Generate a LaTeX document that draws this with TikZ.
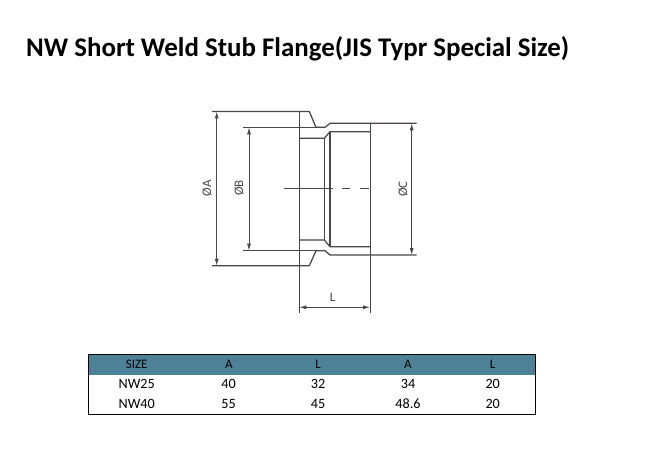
\documentclass[tikz,border=0pt]{standalone}
\usepackage{fontspec}
\setmainfont{Carlito}
\usetikzlibrary{arrows.meta}
\definecolor{hdr}{HTML}{4D8198}
\definecolor{ink}{HTML}{4A4646}
\tikzset{
  x=1pt,y=-1pt,
  part/.style={draw=ink,line width=1.25pt,line join=round},
  thin part/.style={draw=ink,line width=1pt},
  dim/.style={draw=ink,line width=.9pt,{Latex[length=7pt,width=4pt]}-{Latex[length=7pt,width=4pt]}},
  dimlabel/.style={font=\fontsize{13}{15}\selectfont,text=ink,inner sep=0pt},
  cell/.style={font=\fontsize{13}{15}\selectfont,text=black,inner sep=0pt},
  body cell/.style={font=\fontsize{14.2}{16}\selectfont,text=black,inner sep=0pt},
  title/.style={font=\bfseries\fontsize{26.9}{30}\selectfont,text=black,inner sep=0pt,anchor=west}
}
\begin{document}
\begin{tikzpicture}
\useasboundingbox (0,0) rectangle (645,449);
\fill[white] (0,0) rectangle (645,449);
\node[title] (ttl) at (26,49) {NW Short Weld Stub Flange(JIS Typr Special Size)};
% outline
\draw[part] (212,111.5) -- (309.3,111.5) -- (316,127.3) -- (325,127.3) -- (330,123.3) -- (416.7,123.3);
\draw[part] (243,127.3) -- (316,127.3);
\draw[part] (212,265.7) -- (309.3,265.7) -- (316,250.7) -- (325,250.7) -- (330,255) -- (416.7,255);
\draw[part] (243,250.7) -- (316,250.7);
\draw[part] (299.3,138.3) -- (324.3,138.3) -- (330,131.7) -- (370,131.7);
\draw[part] (299.3,240) -- (324.3,240) -- (330,246.7) -- (370,246.7);
\draw[part] (324.3,138.3) -- (324.3,240);
\draw[part] (330,131.7) -- (330,246.7);
\draw[thin part] (299.3,110.7) -- (299.3,313);
\draw[thin part] (370,123.3) -- (370,313);
% centre line
\draw[thin part] (284,189) -- (333,189);
\draw[thin part] (341.7,189) -- (350,189);
\draw[thin part] (360,189) -- (369,189);
% dimensions
\coordinate (a1) at (216.7,111.5); \coordinate (a2) at (216.7,265.7);
\coordinate (b1) at (249,127.3);  \coordinate (b2) at (249,250.7);
\coordinate (c1) at (411.7,123.3);\coordinate (c2) at (411.7,255);
\coordinate (l1) at (299.3,307.3);\coordinate (l2) at (370,307.3);
\draw[dim] (a1) -- (a2);
\draw[dim] (b1) -- (b2);
\draw[dim] (c1) -- (c2);
\draw[dim] (l1) -- (l2);
\node[dimlabel,rotate=90] (la) at (207,188) {ØA};
\node[dimlabel,rotate=90] (lb) at (239,188) {ØB};
\node[dimlabel,rotate=90] (lc) at (403,189) {ØC};
\node[dimlabel] (ll) at (332.7,297) {L};
% table
\fill[hdr] (88.3,354.3) rectangle (535.7,375);
\draw[black,line width=1pt] (88.3,354.3) rectangle (535.7,414.3);
\node[cell] (h1) at (136.7,364) {SIZE};
\node[cell] (h2) at (229,364) {A};
\node[cell] (h3) at (318,364) {L};
\node[cell] (h4) at (408,364) {A};
\node[cell] (h5) at (492.7,364) {L};
\node[body cell] (r11) at (136.7,384) {NW25};
\node[body cell] (r12) at (228.5,384) {40};
\node[body cell] (r13) at (318,384) {32};
\node[body cell] (r14) at (408,384) {34};
\node[body cell] (r15) at (492.7,384) {20};
\node[body cell] (r21) at (136.7,404) {NW40};
\node[body cell] (r22) at (228.5,404) {55};
\node[body cell] (r23) at (318,404) {45};
\node[body cell] (r24) at (408,404) {48.6};
\node[body cell] (r25) at (492.7,404) {20};
\end{tikzpicture}
\end{document}
